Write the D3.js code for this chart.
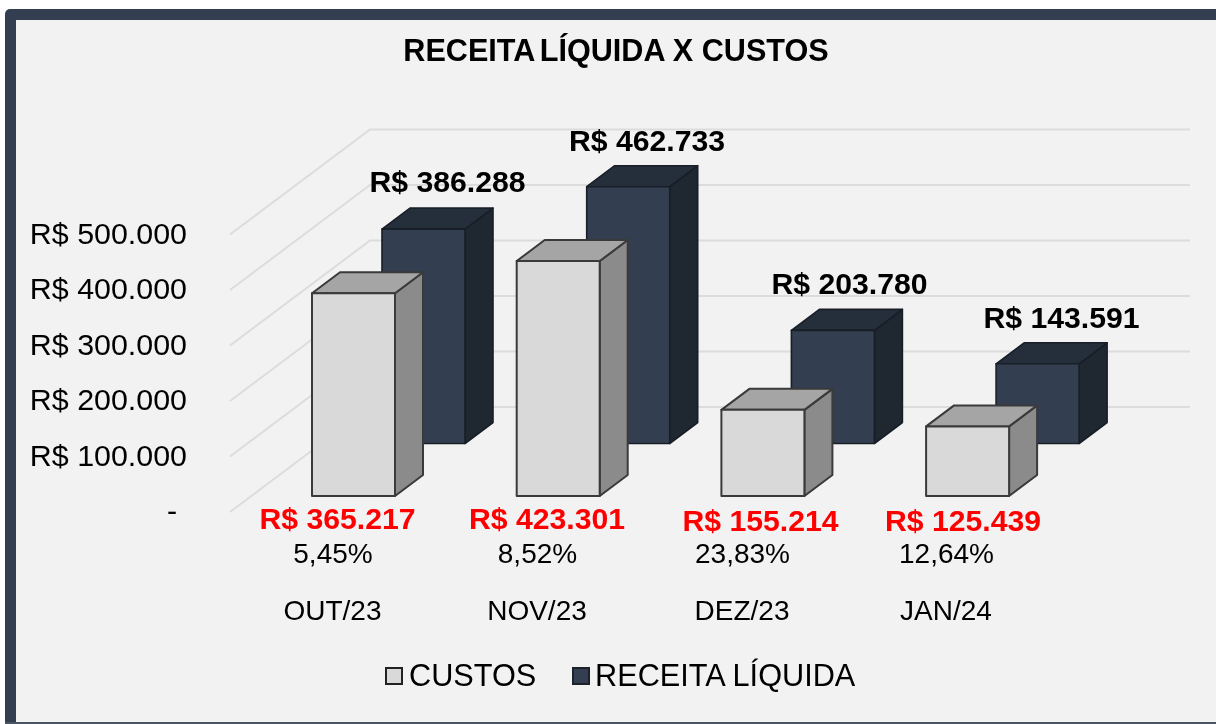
<!DOCTYPE html>
<html><head><meta charset="utf-8">
<script src="https://cdn.jsdelivr.net/npm/d3@7"></script>
<style>html,body{margin:0;padding:0;background:#fff}svg{display:block;filter:blur(0.35px)}text{font-family:"Liberation Sans",Arial,sans-serif;fill:#000}</style>
</head><body><svg id="c" width="1216" height="724"></svg>
<script>
const title = "RECEITA LÍQUIDA X CUSTOS";
const categories = ["OUT/23","NOV/23","DEZ/23","JAN/24"];
const custos = [365217,423301,155214,125439];
const receita = [386288,462733,203780,143591];
const margem = [5.45,8.52,23.83,12.64];
const yTicks = [0,100000,200000,300000,400000,500000];
const seriesNames = ["CUSTOS","RECEITA LÍQUIDA"];

const svg = d3.select("#c");
const loc = d3.formatLocale({decimal:",",thousands:".",grouping:[3],currency:["R$ ",""]});
const fmt = loc.format("$,.0f");
const pct = v => loc.format(".2f")(v)+"%";

// frame
svg.append("rect").attr("x",5).attr("y",9).attr("width",1240).attr("height",720).attr("rx",5).attr("fill","#333f50");
svg.append("rect").attr("x",16).attr("y",20).attr("width",1220).attr("height",702).attr("fill","#f2f2f2");
svg.append("rect").attr("x",5).attr("y",722).attr("width",1211).attr("height",2).attr("fill","#4a5563");

// scales
const y = d3.scaleLinear().domain([0,500000]).range([0,277.5]);   // height in px
const x = d3.scaleLinear().domain([0,categories.length]).range([312,312+4*204.7]); // category position
const depthX = d3.scaleLinear().domain([0,1]).range([230,370]);
const depthY = d3.scaleLinear().domain([0,1]).range([512,407]);
const barW = 83, dx = 28, dy = 21;

// walls: grid
const grid = svg.append("g").attr("fill","none").attr("stroke","#dcdcdc").attr("stroke-width",2);
yTicks.forEach(t=>{
  const h = y(t);
  grid.append("path").attr("d",d3.line()([
    [depthX(0),depthY(0)-h],[depthX(1),depthY(1)-h],[1190,depthY(1)-h]]));
});

// y tick labels
svg.append("g").selectAll("text").data(yTicks).join("text")
  .attr("x",d=>d===0?177:187).attr("y",d=>depthY(0)-y(d)+9)
  .attr("text-anchor","end").attr("font-size",30.4)
  .text(d=>d===0?"-":fmt(d));

function bar(g,i,v,offX,baseY,c){
  const x0=x(i)+offX, h=y(v), t=baseY-h, r=x0+barW;
  const st={stroke:c.stroke,"stroke-width":c.sw,"stroke-linejoin":"round"};
  const add=(pts,fill)=>{const p=g.append("path").attr("d",d3.line()(pts)+"Z").attr("fill",fill);
    Object.entries(st).forEach(([k,a])=>p.attr(k,a));};
  add([[r,t],[r+dx,t-dy],[r+dx,baseY-dy],[r,baseY]],c.side);
  add([[x0,t],[x0+dx,t-dy],[r+dx,t-dy],[r,t]],c.top);
  add([[x0,t],[r,t],[r,baseY],[x0,baseY]],c.front);
}
const gBars = svg.append("g");
const cRec={front:"#333f50",top:"#252e3b",side:"#1f2731",stroke:"#181e27",sw:1.6};
const cCus={front:"#d9d9d9",top:"#a5a5a5",side:"#8b8b8b",stroke:"#3a3a3a",sw:2};
receita.forEach((v,i)=>bar(gBars,i,v,70,443.5,cRec));
custos.forEach((v,i)=>bar(gBars,i,v,0,496,cCus));

// value labels
const g = svg.append("g");
const recCx=[447.5,647,849.5,1061.5], recBase=[192,151,294,328];
receita.forEach((v,i)=>g.append("text").attr("x",recCx[i]).attr("y",recBase[i])
  .attr("text-anchor","middle").attr("font-size",30.2).attr("font-weight","bold").text(fmt(v)));
const cusCx=[337.5,547,760.5,963], cusBase=[529,529,531,531];
custos.forEach((v,i)=>g.append("text").attr("x",cusCx[i]).attr("y",cusBase[i])
  .attr("text-anchor","middle").attr("font-size",30.2).attr("font-weight","bold").style("fill","#ff0000").text(fmt(v)));
const pctCx=[333,537.5,742.5,946.5];
margem.forEach((v,i)=>g.append("text").attr("x",pctCx[i]).attr("y",563)
  .attr("text-anchor","middle").attr("font-size",28).text(pct(v)));
categories.forEach((c,i)=>g.append("text").attr("x",pctCx[i]-0.5).attr("y",620)
  .attr("text-anchor","middle").attr("font-size",28).text(c));

// title
const words = title.split(" ");
const tt = svg.append("text").attr("x",616).attr("y",61).attr("text-anchor","middle")
  .attr("font-size",30.6).attr("font-weight","bold");
tt.append("tspan").text(words[0]+" ");
tt.append("tspan").attr("dx",-3).text(words.slice(1).join(" "));

// legend
const lg=svg.append("g");
[[386,409,cCus],[573,595,cRec]].forEach(([sx,tx,c],i)=>{
  lg.append("rect").attr("x",sx).attr("y",668).attr("width",16).attr("height",16)
    .attr("fill",c.front).attr("stroke",i?"#1c222b":"#222").attr("stroke-width",2);
  lg.append("text").attr("x",tx).attr("y",686).attr("font-size",30.7).text(seriesNames[i]);
});
</script></body></html>
